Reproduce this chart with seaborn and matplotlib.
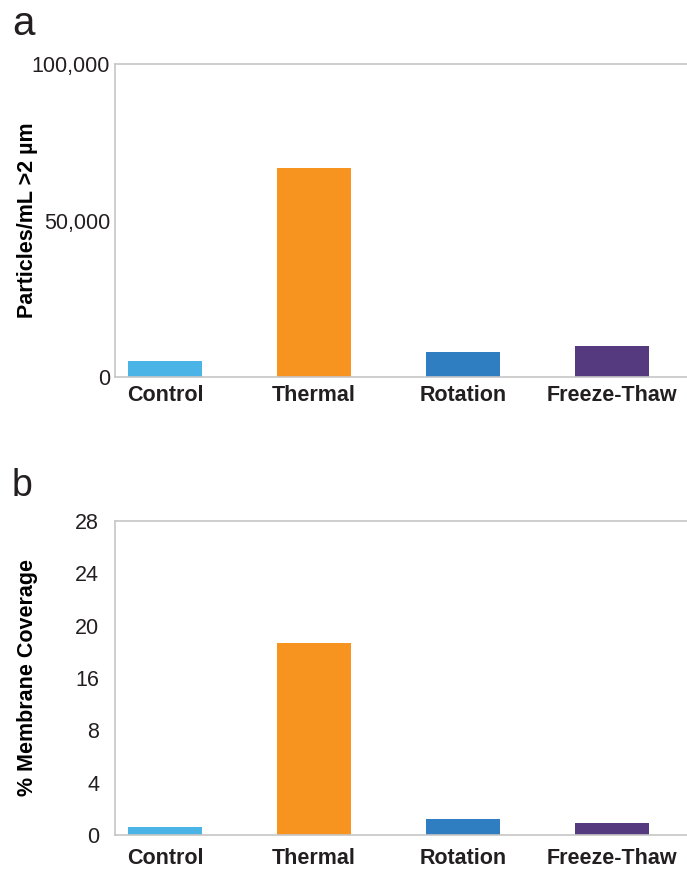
import seaborn as sns
import matplotlib.pyplot as plt
import matplotlib.ticker as mtick
import pandas as pd

# values
treatments = ['Control', 'Thermal', 'Rotation', 'Freeze-Thaw']
particles = [5100, 66800, 8000, 9900]          # particles/mL > 2 um
coverage = [0.7, 17.1, 1.45, 1.1]              # in the axis' own units (0-28, 6 equal steps)
cov_ticks = ['0', '4', '8', '16', '20', '24', '28']
colors = ['#4AB4E6', '#F6941F', '#2F7EC1', '#553A7F']

df = pd.DataFrame({'treatment': treatments, 'particles': particles, 'coverage': coverage})

settings = {'font.family': ['Liberation Sans', 'DejaVu Sans'], 'axes.edgecolor': '#c6c6c6',
            'axes.linewidth': 1.2, 'xtick.major.size': 0, 'ytick.major.size': 0,
            'ytick.labelsize': 15.5, 'xtick.labelsize': 15.5, 'text.color': '#231F20',
            'xtick.color': '#231F20', 'ytick.color': '#231F20'}

with plt.rc_context(settings):
    fig = plt.figure(figsize=(6.87, 8.69), dpi=100)
    W, H = 687, 869
    ax1 = fig.add_axes([115/W, 1-377/H, 572/W, (377-64)/H])
    ax2 = fig.add_axes([115/W, 1-835/H, 572/W, (835-521)/H])

    for ax, col in [(ax1, 'particles'), (ax2, 'coverage')]:
        sns.barplot(data=df, x='treatment', y=col, hue='treatment', palette=colors,
                    legend=False, width=0.5, saturation=1, ax=ax)
        ax.set_xlim(-0.338, 3.506)
        ax.spines['right'].set_visible(False)
        ax.set_xlabel('')
        for lab in ax.get_xticklabels():
            lab.set_fontweight('bold')

    ax1.set_ylim(0, 100000)
    ax1.set_yticks([0, 50000, 100000])
    ax1.yaxis.set_major_formatter(mtick.StrMethodFormatter('{x:,.0f}'))
    ax1.tick_params(axis='x', pad=5.5)
    ax1.tick_params(axis='y', pad=3.5)
    ax1.set_ylabel('Particles/mL >2 µm', fontsize=15.5, fontweight='bold')
    ax1.yaxis.set_label_coords(-0.135, 0.5)

    ax2.set_ylim(0, 28)
    ax2.set_yticks([i * 28 / 6 for i in range(7)])
    ax2.set_yticklabels(cov_ticks)
    ax2.tick_params(axis='x', pad=9.5)
    ax2.tick_params(axis='y', pad=11.5)
    ax2.set_ylabel('% Membrane Coverage', fontsize=15.5, fontweight='bold')
    ax2.yaxis.set_label_coords(-0.135, 0.5)

    fig.text(12/W, 1-35/H, 'a', fontsize=29, va='baseline')
    fig.text(12/W, 1-496/H, 'b', fontsize=27, va='baseline')

    plt.savefig('out.png', dpi=100)
    plt.close()
